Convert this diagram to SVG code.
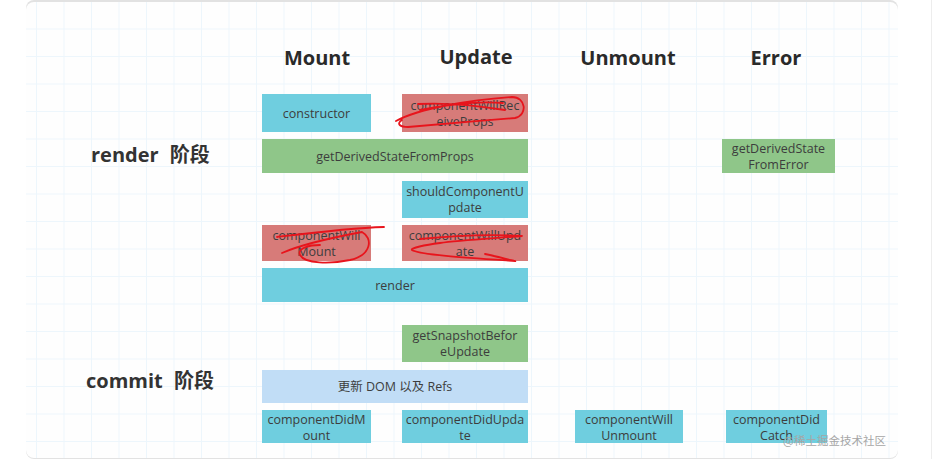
<svg xmlns="http://www.w3.org/2000/svg" width="932" height="459" viewBox="0 0 932 459">
<defs>
<pattern id="grid" patternUnits="userSpaceOnUse" x="36" y="28.5" width="27.5" height="27.5">
<path d="M0 0.5H27.5M0.5 0V27.5" stroke="#edf6fc" stroke-width="1" fill="none"/>
</pattern>
<clipPath id="card"><rect x="26" y="2" width="872" height="456" rx="8"/></clipPath>
<style>
.hdr{font-family:"Open Sans","Noto Sans",sans-serif;font-weight:bold;font-size:20px;fill:#2a2a2a;text-anchor:middle}
.phase{font-family:"Open Sans","Noto Sans CJK SC",sans-serif;font-weight:bold;font-size:20px;fill:#333;word-spacing:6px}
.t{font-family:"Open Sans","Noto Sans CJK SC",sans-serif;font-size:12.5px;fill:#3d3d3d;text-anchor:middle;dominant-baseline:central}
.cyan{fill:#6fcedf}
.red{fill:#d77b79}
.green{fill:#8fc689}
.lblue{fill:#c1ddf6}
.scrib{fill:none;stroke:#e8141c;stroke-width:1.8;stroke-linecap:round;stroke-linejoin:round}
.wm{font-family:"Noto Sans CJK SC","Noto Sans",sans-serif;font-size:11.5px;fill:#a6a6a6}
</style>
</defs>
<rect width="932" height="459" fill="#ffffff"/>
<rect x="26" y="0" width="872" height="459" rx="8" fill="#e2e2e2"/>
<rect x="26" y="2" width="872" height="456" rx="8" fill="#fefefe"/>
<rect x="26" y="2" width="872" height="456" fill="url(#grid)" clip-path="url(#card)"/>
<line x1="931.5" y1="0" x2="931.5" y2="459" stroke="#ededed"/>

<g id="headers">
<text class="hdr" x="317" y="65">Mount</text>
<text class="hdr" x="476" y="64">Update</text>
<text class="hdr" x="628" y="65">Unmount</text>
<text class="hdr" x="776" y="65">Error</text>
</g>
<g id="phase-render"><text class="phase" x="91" y="162">render 阶段</text></g>
<g id="phase-commit"><text class="phase" x="86" y="388">commit 阶段</text></g>

<g id="constructor"><rect class="cyan" x="262" y="94" width="109" height="38"/><text class="t" x="316.5" y="113">constructor</text></g>
<g id="componentWillReceiveProps"><rect class="red" x="402" y="94" width="126" height="38"/><text class="t" x="465" y="105">componentWillRec</text><text class="t" x="465" y="121">eiveProps</text>
<path class="scrib" d="M418 104C450 102 480 106 505 110M420 110C450 104 480 101 503 103M396 121C420 108 470 100 512 97C526 97 528 115 515 118C480 121 440 124 408 127C400 127 396 124 402 120"/></g>
<g id="getDerivedStateFromProps"><rect class="green" x="262" y="139" width="266" height="34"/><text class="t" x="395" y="156.5">getDerivedStateFromProps</text></g>
<g id="shouldComponentUpdate"><rect class="cyan" x="402" y="181" width="126" height="37"/><text class="t" x="465" y="191.5">shouldComponentU</text><text class="t" x="465" y="207.5">pdate</text></g>
<g id="getDerivedStateFromError"><rect class="green" x="722" y="139" width="113" height="34"/><text class="t" x="778.5" y="148.5">getDerivedState</text><text class="t" x="778.5" y="164.5">FromError</text></g>
<g id="componentWillMount"><rect class="red" x="262" y="225" width="109" height="36"/><text class="t" x="316.5" y="235">componentWill</text><text class="t" x="316.5" y="251">Mount</text>
<path class="scrib" d="M277 237C310 233 350 228 384 227M282 253C300 245 330 238 362 232C373 238 372 255 350 260C330 264 305 264 300 255C297 248 310 245 320 245"/></g>
<g id="componentWillUpdate"><rect class="red" x="402" y="225" width="126" height="36"/><text class="t" x="465" y="235">componentWillUpd</text><text class="t" x="465" y="251">ate</text>
<path class="scrib" d="M420 239C450 236 490 234 522 236C500 238 460 240 440 243C425 245 410 248 412 250C420 255 470 258 515 261C518 262 500 257 485 254"/></g>
<g id="render"><rect class="cyan" x="262" y="268" width="266" height="34"/><text class="t" x="395" y="285">render</text></g>
<g id="getSnapshotBeforeUpdate"><rect class="green" x="402" y="325" width="126" height="37"/><text class="t" x="465" y="335.5">getSnapshotBefor</text><text class="t" x="465" y="351.5">eUpdate</text></g>
<g id="updateDOM"><rect class="lblue" x="262" y="370" width="266" height="33"/><text class="t" x="395" y="386.5">更新 DOM 以及 Refs</text></g>
<g id="componentDidMount"><rect class="cyan" x="262" y="410" width="109" height="33"/><text class="t" x="316.5" y="419">componentDidM</text><text class="t" x="316.5" y="435">ount</text></g>
<g id="componentDidUpdate"><rect class="cyan" x="402" y="410" width="126" height="33"/><text class="t" x="465" y="419">componentDidUpda</text><text class="t" x="465" y="435">te</text></g>
<g id="componentWillUnmount"><rect class="cyan" x="575" y="410" width="108" height="33"/><text class="t" x="629" y="419">componentWill</text><text class="t" x="629" y="435">Unmount</text></g>
<g id="componentDidCatch"><rect class="cyan" x="726" y="410" width="101" height="33"/><text class="t" x="776.5" y="419">componentDid</text><text class="t" x="776.5" y="435">Catch</text></g>
<text class="wm" x="783" y="445">@稀土掘金技术社区</text>
</svg>
